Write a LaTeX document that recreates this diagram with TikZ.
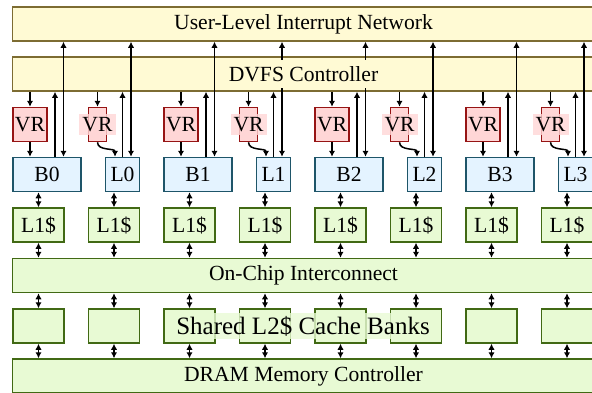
\documentclass[tikz,border=0pt]{standalone}
\usepackage{fontspec}
\setmainfont{Liberation Serif}
\usepackage{xcolor}
\usepackage{tikz}
\usetikzlibrary{arrows.meta}
\definecolor{lightyellow}{RGB}{255,250,212}
\definecolor{darkyellow}{RGB}{125,108,50}
\definecolor{lightred}{RGB}{255,214,214}
\definecolor{darkred}{RGB}{150,20,20}
\definecolor{lightblue}{RGB}{228,243,255}
\definecolor{darkblue}{RGB}{30,85,105}
\definecolor{lightgreen}{RGB}{232,250,212}
\definecolor{darkgreen}{RGB}{65,105,20}

\begin{document}
\begin{tikzpicture}[x=0.5pt, y=-0.5pt, line width=0.75pt,
    >={Latex[length=3pt,width=3.2pt]},
    font=\fontsize{10.8pt}{13pt}\selectfont,
    box/.style={draw, rectangle, minimum height=17pt, inner sep=0pt},
    wide/.style={minimum width=291pt},
    bar/.style={box, draw=darkyellow, fill=lightyellow},
    vr/.style={box, draw=darkred, fill=lightred, minimum width=17pt},
    core/.style={box, draw=darkblue, fill=lightblue, minimum width=17pt},
    mem/.style={box, draw=darkgreen, fill=lightgreen, minimum width=25.5pt}]
    \useasboundingbox (0,0) rectangle (592,392);

    % Interrupt network and DVFS
    \node[bar, wide] (uin) at (303.5,24) {User-Level Interrupt Network};
    \node[bar, wide] (dvfs) at (303.5,74) {};

    % Voltage regulators
    \node[vr] (vr0) at (30,124.5) {VR};
    \node[vr, minimum width=9pt] (vr1) at (97.5,124.5) {};
    \node[vr] (vr2) at (181,124.5) {VR};
    \node[vr, minimum width=9pt] (vr3) at (248.5,124.5) {};
    \node[vr] (vr4) at (332,124.5) {VR};
    \node[vr, minimum width=9pt] (vr5) at (399.5,124.5) {};
    \node[vr] (vr6) at (483,124.5) {VR};
    \node[vr, minimum width=9pt] (vr7) at (550.5,124.5) {};

    % Big and little cores
    \node[core, minimum width=34pt] (b0) at (47,174.5) {B0};
    \node[core] (l0) at (122.5,174.5) {L0};
    \node[core, minimum width=34pt] (b1) at (198,174.5) {B1};
    \node[core] (l1) at (273.5,174.5) {L1};
    \node[core, minimum width=34pt] (b2) at (349,174.5) {B2};
    \node[core] (l2) at (424.5,174.5) {L2};
    \node[core, minimum width=34pt] (b3) at (500,174.5) {B3};
    \node[core] (l3) at (575.5,174.5) {L3};

    % L1 caches
    \node[mem] (ca0) at (38.5,225) {L1\$};
    \node[mem] (ca1) at (114,225) {L1\$};
    \node[mem] (ca2) at (189.5,225) {L1\$};
    \node[mem] (ca3) at (265,225) {L1\$};
    \node[mem] (ca4) at (340.5,225) {L1\$};
    \node[mem] (ca5) at (416,225) {L1\$};
    \node[mem] (ca6) at (491.5,225) {L1\$};
    \node[mem] (ca7) at (567,225) {L1\$};

    % Interconnect
    \node[mem, wide] (noc) at (303.5,275.5) {On-Chip Interconnect};

    % L2 banks
    \node[mem] (bk0) at (38.5,326) {};
    \node[mem] (bk1) at (114,326) {};
    \node[mem] (bk2) at (189.5,326) {};
    \node[mem] (bk3) at (265,326) {};
    \node[mem] (bk4) at (340.5,326) {};
    \node[mem] (bk5) at (416,326) {};
    \node[mem] (bk6) at (491.5,326) {};
    \node[mem] (bk7) at (567,326) {};

    % DRAM
    \node[mem, wide] (dram) at (303.5,376) {DRAM Memory Controller};

    % Arrows
    \foreach \v in {vr0,vr1,vr2,vr3,vr4,vr5,vr6,vr7}
        \draw[->] (dvfs.south -| \v) -- (\v.north);
    \foreach \v/\c in {vr0/b0,vr2/b1,vr4/b2,vr6/b3}
        \draw[->] (\v.south) -- (\v.south |- \c.north);
    \foreach \v/\c in {vr1/l0,vr3/l1,vr5/l2,vr7/l3}
        \draw[->] (\v.south) to[out=-90, in=90] ([xshift=-3.75pt]\c.north);
    \foreach \c in {b0,b1,b2,b3} {
        \draw[->] ([xshift=4pt]\c.north) -- ([xshift=4pt]\c.north |- dvfs.south);
        \draw[<->] ([xshift=8.25pt]\c.north) -- ([xshift=8.25pt]\c.north |- uin.south);
    }
    \foreach \c in {l0,l1,l2,l3} {
        \draw[->] (\c.north) -- (\c.north |- dvfs.south);
        \draw[<->] ([xshift=4.25pt]\c.north) -- ([xshift=4.25pt]\c.north |- uin.south);
    }
    \foreach \c/\k/\m in {b0/ca0/bk0,l0/ca1/bk1,b1/ca2/bk2,l1/ca3/bk3,b2/ca4/bk4,l2/ca5/bk5,b3/ca6/bk6,l3/ca7/bk7} {
        \draw[<->] (\k.north |- \c.south) -- (\k.north);
        \draw[<->] (\k.south) -- (\k.south |- noc.north);
        \draw[<->] (\k.south |- noc.south) -- (\m.north);
        \draw[<->] (\m.south) -- (\m.south |- dram.north);
    }

    % Labels over the lines
    \node[fill=lightyellow, inner sep=3pt] (dvfst) at (dvfs) {DVFS Controller};
    \node[fill=lightred, fill opacity=0.8, text opacity=1, inner sep=1.5pt] (vr1t) at (vr1) {VR};
    \node[fill=lightred, fill opacity=0.8, text opacity=1, inner sep=1.5pt] (vr3t) at (vr3) {VR};
    \node[fill=lightred, fill opacity=0.8, text opacity=1, inner sep=1.5pt] (vr5t) at (vr5) {VR};
    \node[fill=lightred, fill opacity=0.8, text opacity=1, inner sep=1.5pt] (vr7t) at (vr7) {VR};
    \node[fill=lightgreen, fill opacity=0.8, text opacity=1, inner sep=1.5pt] (bkt) at (303,326)
        {\fontsize{12.5pt}{15pt}\selectfont Shared L2\$ Cache Banks};

\end{tikzpicture}
\end{document}
